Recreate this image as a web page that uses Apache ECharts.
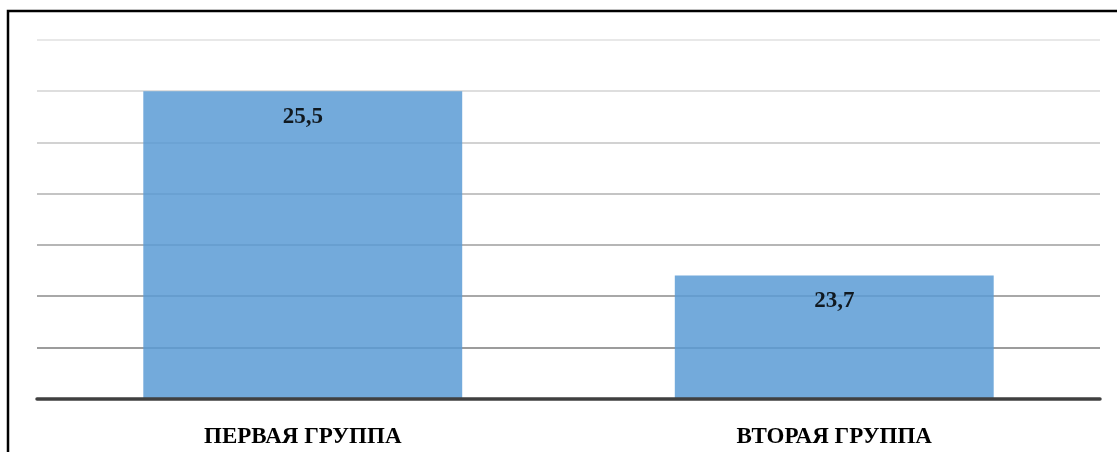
<!DOCTYPE html>
<html>
<head>
	<meta charset="UTF-8">
	<title>Группы</title>
	<style type="text/css">
		html, body { margin: 0; padding: 0; background: #fff; }
		#chartbox { width: 1117px; height: 452px; }
	</style>
	<script src="https://cdn.jsdelivr.net/npm/echarts@6/dist/echarts.min.js"></script>
</head>
<body>
	<div id="chartbox"></div>
	<script>
		var categories = ['ПЕРВАЯ ГРУППА', 'ВТОРАЯ ГРУППА'];
		var values = [25.5, 23.7];
		var valueLabels = ['25,5', '23,7'];
		// gridlines get lighter toward the top
		var gridColors = ['#8c8c8c', '#9c9c9c', '#a8a8a8', '#b6b6b6', '#c4c4c4', '#d2d2d2', '#dedede', '#e8e8e8'];

		var chart = echarts.init(document.getElementById('chartbox'));

		var option = {
			animation: false,
			grid: { left: 37, right: 17, top: 40, bottom: 53.5 },
			graphic: [{
				type: 'rect',
				shape: { x: 8, y: 11, width: 1200, height: 500 },
				style: { fill: 'none', stroke: '#000', lineWidth: 2.5 },
				z: 100
			}],
			xAxis: {
				type: 'category',
				data: categories,
				axisTick: { show: false },
				axisLine: { lineStyle: { color: '#404040', width: 3.5 } },
				axisLabel: {
					margin: 27,
					color: '#000',
					fontFamily: '"Liberation Serif", "Times New Roman", serif',
					fontWeight: 'bold',
					fontSize: 23
				},
				z: 10
			},
			yAxis: {
				type: 'value',
				min: 22.5,
				max: 26,
				interval: 0.5,
				axisLabel: { show: false },
				axisLine: { show: false },
				axisTick: { show: false },
				splitLine: { lineStyle: { color: gridColors, width: 2 } }
			},
			series: [{
				type: 'bar',
				data: values,
				barWidth: '60%',
				itemStyle: { color: '#5b9bd5', opacity: 0.85 },
				label: {
					show: true,
					position: 'insideTop',
					distance: 14,
					formatter: function (p) { return valueLabels[p.dataIndex]; },
					color: '#000',
					fontFamily: '"Liberation Serif", "Times New Roman", serif',
					fontWeight: 'bold',
					fontSize: 23
				}
			}]
		};

		chart.setOption(option);
	</script>
</body>
</html>
